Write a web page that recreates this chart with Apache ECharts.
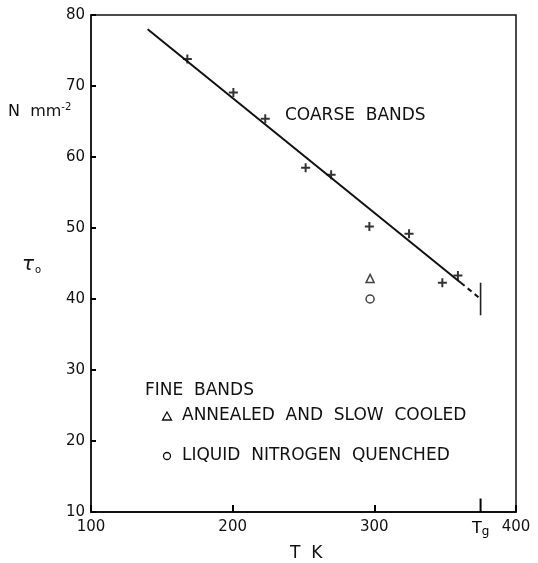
<!DOCTYPE html>
<html>
<head>
<meta charset="utf-8">
<script src="https://cdn.jsdelivr.net/npm/echarts@6/dist/echarts.min.js"></script>
<style>
html, body { margin: 0; padding: 0; background: #fff; }
#chart { width: 538px; height: 563px; }
</style>
</head>
<body>
<div id="chart"></div>
<script>
var dom = document.getElementById("chart");
var myChart = echarts.init(dom);

// coarse bands (crosses)
var coarseT = [168, 200.5, 223, 251.5, 269.5, 296.5, 324.5, 348, 359];
var coarseTau = [73.8, 69.1, 65.4, 58.5, 57.5, 50.2, 49.2, 42.3, 43.3];
// fine bands
var annealed = [[297, 42.9]];
var quenched = [[297, 40.0]];
// fitted line, solid part then dashed extrapolation to Tg
var fitSolid = [[140, 78], [361, 42.3]];
var fitDashed = [[361, 42.3], [375, 40]];
var Tg = 375;
var tgMark = [[Tg, 37.7], [Tg, 42.3]];
var tgTick = [[Tg, 10], [Tg, 11.9]];

var ink = '#111';
var font = 'DejaVu Sans';
var plus = 'path://M3.9,0h2.2v3.9h3.9v2.2h-3.9v3.9h-2.2v-3.9h-3.9v-2.2h3.9z';

var coarseData = coarseT.map(function (t, i) { return [t, coarseTau[i]]; });

option = {
    backgroundColor: '#fff',
    animation: false,
    grid: {
        left: 91, right: 22, top: 15, bottom: 51,
        show: true, borderColor: ink, borderWidth: 1.5
    },
    xAxis: {
        type: 'value',
        min: 100, max: 400, interval: 100,
        axisLine: { lineStyle: { color: ink, width: 1.8 } },
        axisTick: { show: true, inside: true, length: 7, lineStyle: { color: '#000', width: 2 } },
        splitLine: { show: false },
        axisLabel: { margin: 8, color: ink, fontFamily: font, fontSize: 15 }
    },
    yAxis: {
        type: 'value',
        min: 10, max: 80, interval: 10,
        axisLine: { show: true, lineStyle: { color: ink, width: 1.5 } },
        axisTick: { show: true, inside: true, length: 5, lineStyle: { color: '#000', width: 2 } },
        splitLine: { show: false },
        axisLabel: { margin: 6, color: ink, fontFamily: font, fontSize: 15 }
    },
    series: [
        {
            type: 'line', data: fitSolid, symbol: 'none',
            lineStyle: { color: ink, width: 2 }
        },
        {
            type: 'line', data: fitDashed, symbol: 'none',
            lineStyle: { color: ink, width: 2, type: [5, 4] }
        },
        {
            type: 'line', data: tgMark, symbol: 'none',
            lineStyle: { color: '#222', width: 1.6 }
        },
        {
            type: 'line', data: tgTick, symbol: 'none',
            lineStyle: { color: '#000', width: 2 }
        },
        {
            // Tg label under the axis
            type: 'scatter', data: [[Tg, 10]], symbolSize: 0, clip: false,
            itemStyle: { color: ink },
            label: {
                show: true, position: 'bottom', distance: 8, color: ink, opacity: 1,
                formatter: '{t|T}{g|g}',
                rich: {
                    t: { fontFamily: font, fontSize: 16, color: '#000' },
                    g: { fontFamily: font, fontSize: 12, color: '#000', padding: [6, 0, 0, 0] }
                }
            }
        },
        {
            type: 'scatter', data: coarseData, symbol: plus, symbolSize: 9,
            itemStyle: { color: '#000' }
        },
        {
            type: 'scatter', data: annealed, symbol: 'triangle', symbolSize: 8,
            itemStyle: { color: '#fff', borderColor: ink, borderWidth: 1.5 }
        },
        {
            type: 'scatter', data: quenched, symbol: 'circle', symbolSize: 8,
            itemStyle: { color: '#fff', borderColor: ink, borderWidth: 1.5 }
        }
    ],
    graphic: [
        {
            type: 'text', left: 8, top: 102,
            style: {
                text: 'N  mm{s|-2}', fill: ink, font: '16px "DejaVu Sans"',
                rich: { s: { fontFamily: font, fontSize: 10, fill: ink, padding: [0, 0, 10, 0] } }
            }
        },
        {
            type: 'text', left: 22, top: 255,
            style: {
                text: '{t|τ}{o|o}', fill: ink,
                rich: {
                    t: { fontFamily: font, fontSize: 20, fontStyle: 'italic', fill: ink },
                    o: { fontFamily: font, fontSize: 10, fill: ink, padding: [10, 0, 0, 1] }
                }
            }
        },
        {
            type: 'text', left: 290, top: 545,
            style: { text: 'T  K', fill: ink, font: '17px "DejaVu Sans"' }
        },
        {
            type: 'text', left: 285, top: 107,
            style: { text: 'COARSE  BANDS', fill: ink, font: '17px "DejaVu Sans"' }
        },
        {
            type: 'text', left: 145, top: 382,
            style: { text: 'FINE  BANDS', fill: ink, font: '17px "DejaVu Sans"' }
        },
        {
            type: 'text', left: 182, top: 407,
            style: { text: 'ANNEALED  AND  SLOW  COOLED', fill: ink, font: '17px "DejaVu Sans"' }
        },
        {
            type: 'text', left: 182, top: 447,
            style: { text: 'LIQUID  NITROGEN  QUENCHED', fill: ink, font: '17px "DejaVu Sans"' }
        },
        {
            type: 'polygon',
            shape: { points: [[167, 412], [171.5, 420], [162.5, 420]] },
            style: { fill: '#fff', stroke: ink, lineWidth: 1.3 }
        },
        {
            type: 'circle',
            shape: { cx: 167, cy: 456, r: 3.5 },
            style: { fill: '#fff', stroke: ink, lineWidth: 1.3 }
        }
    ]
};

if (option && typeof option === "object") {
    myChart.setOption(option, true);
}
</script>
</body>
</html>
